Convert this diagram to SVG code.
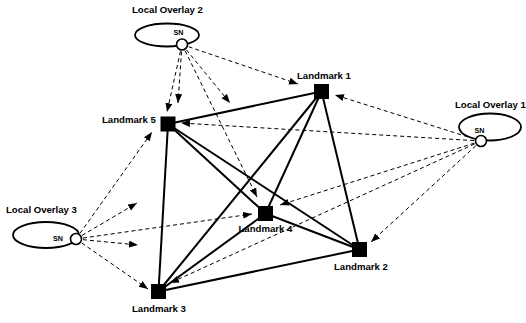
<svg xmlns="http://www.w3.org/2000/svg" width="526" height="323" viewBox="0 0 526 323">
  <defs>
    <marker id="arrow" markerUnits="userSpaceOnUse" markerWidth="10" markerHeight="8" refX="9" refY="3.5" orient="auto">
      <path d="M0,0 L9,3.5 L0,7 z" fill="#000"/>
    </marker>
  </defs>
  <style>
    .overlay { fill: none; stroke: #000; stroke-width: 1.8; }
    .sn { fill: #fff; stroke: #000; stroke-width: 1.6; }
    .dash { fill: none; stroke: #000; stroke-width: 1; stroke-dasharray: 4 3; marker-end: url(#arrow); }
    .link { stroke: #000; stroke-width: 2; }
    .lm { fill: #000; }
    text { font-family: "Liberation Sans", Arial, sans-serif; font-weight: bold; fill: #000; }
    .lbl { font-size: 9.6px; }
    .snl { font-size: 7.2px; text-anchor: middle; }
  </style>

  <!-- overlay ellipses -->
  <g id="overlay2-ring"><ellipse class="overlay" cx="167" cy="35" rx="32" ry="11.5"/></g>
  <g id="overlay1-ring"><ellipse class="overlay" cx="490" cy="127" rx="31" ry="13.5"/></g>
  <g id="overlay3-ring"><ellipse class="overlay" cx="46" cy="235" rx="33" ry="13"/></g>

  <!-- connectors -->
  <g id="connectors">
    <!-- from super node of overlay 2 -->
    <line class="dash" x1="182" y1="44.5" x2="167" y2="112"/>
    <line class="dash" x1="182" y1="44.5" x2="178" y2="103"/>
    <line class="dash" x1="182" y1="44.5" x2="230" y2="103"/>
    <line class="dash" x1="182" y1="44.5" x2="257" y2="197"/>
    <line class="dash" x1="182" y1="44.5" x2="298" y2="84"/>
    <!-- from super node of overlay 1 -->
    <line class="dash" x1="481" y1="141" x2="335" y2="95"/>
    <line class="dash" x1="481" y1="141" x2="181" y2="123"/>
    <line class="dash" x1="481" y1="141" x2="280" y2="205"/>
    <line class="dash" x1="481" y1="141" x2="170" y2="283"/>
    <line class="dash" x1="481" y1="141" x2="371" y2="242"/>
    <!-- from super node of overlay 3 -->
    <line class="dash" x1="76" y1="239" x2="152" y2="132"/>
    <line class="dash" x1="76" y1="239" x2="137" y2="203"/>
    <line class="dash" x1="76" y1="239" x2="252" y2="214"/>
    <line class="dash" x1="76" y1="239" x2="138" y2="245"/>
    <line class="dash" x1="76" y1="239" x2="148" y2="289"/>
    <!-- landmark mesh -->
    <line class="link" x1="321.5" y1="91.5" x2="168" y2="124"/>
    <line class="link" x1="321.5" y1="91.5" x2="265.5" y2="213.5"/>
    <line class="link" x1="321.5" y1="91.5" x2="158.5" y2="291.5"/>
    <line class="link" x1="321.5" y1="91.5" x2="359.5" y2="249.5"/>
    <line class="link" x1="168" y1="124" x2="265.5" y2="213.5"/>
    <line class="link" x1="168" y1="124" x2="359.5" y2="249.5"/>
    <line class="link" x1="168" y1="124" x2="158.5" y2="291.5"/>
    <line class="link" x1="265.5" y1="213.5" x2="359.5" y2="249.5"/>
    <line class="link" x1="265.5" y1="213.5" x2="158.5" y2="291.5"/>
    <line class="link" x1="158.5" y1="291.5" x2="359.5" y2="249.5"/>
  </g>

  <!-- local overlays -->
  <g id="overlay2">
    <text class="lbl" x="132" y="13">Local Overlay 2</text>
    <text class="snl" x="178.5" y="35">SN</text>
    <circle class="sn" cx="182" cy="44.5" r="5.5"/>
  </g>
  <g id="overlay1">
    <text class="lbl" x="455" y="108">Local Overlay 1</text>
    <text class="snl" x="479.5" y="133">SN</text>
    <circle class="sn" cx="481" cy="141" r="5.5"/>
  </g>
  <g id="overlay3">
    <text class="lbl" x="6" y="213">Local Overlay 3</text>
    <text class="snl" x="58" y="241">SN</text>
    <circle class="sn" cx="76" cy="239" r="5.5"/>
  </g>

  <!-- landmarks -->
  <g id="landmark1">
    <rect class="lm" x="314" y="84" width="15" height="15"/>
    <text class="lbl" x="297" y="78.5">Landmark 1</text>
  </g>
  <g id="landmark2">
    <rect class="lm" x="352" y="242" width="15" height="15"/>
    <text class="lbl" x="334" y="270">Landmark 2</text>
  </g>
  <g id="landmark3">
    <rect class="lm" x="151" y="284" width="15" height="15"/>
    <text class="lbl" x="132" y="312">Landmark 3</text>
  </g>
  <g id="landmark4">
    <rect class="lm" x="258" y="206" width="15" height="15"/>
    <text class="lbl" x="238.5" y="231.5">Landmark 4</text>
  </g>
  <g id="landmark5">
    <rect class="lm" x="160.5" y="116.5" width="15" height="15"/>
    <text class="lbl" x="102" y="123">Landmark 5</text>
  </g>
</svg>
